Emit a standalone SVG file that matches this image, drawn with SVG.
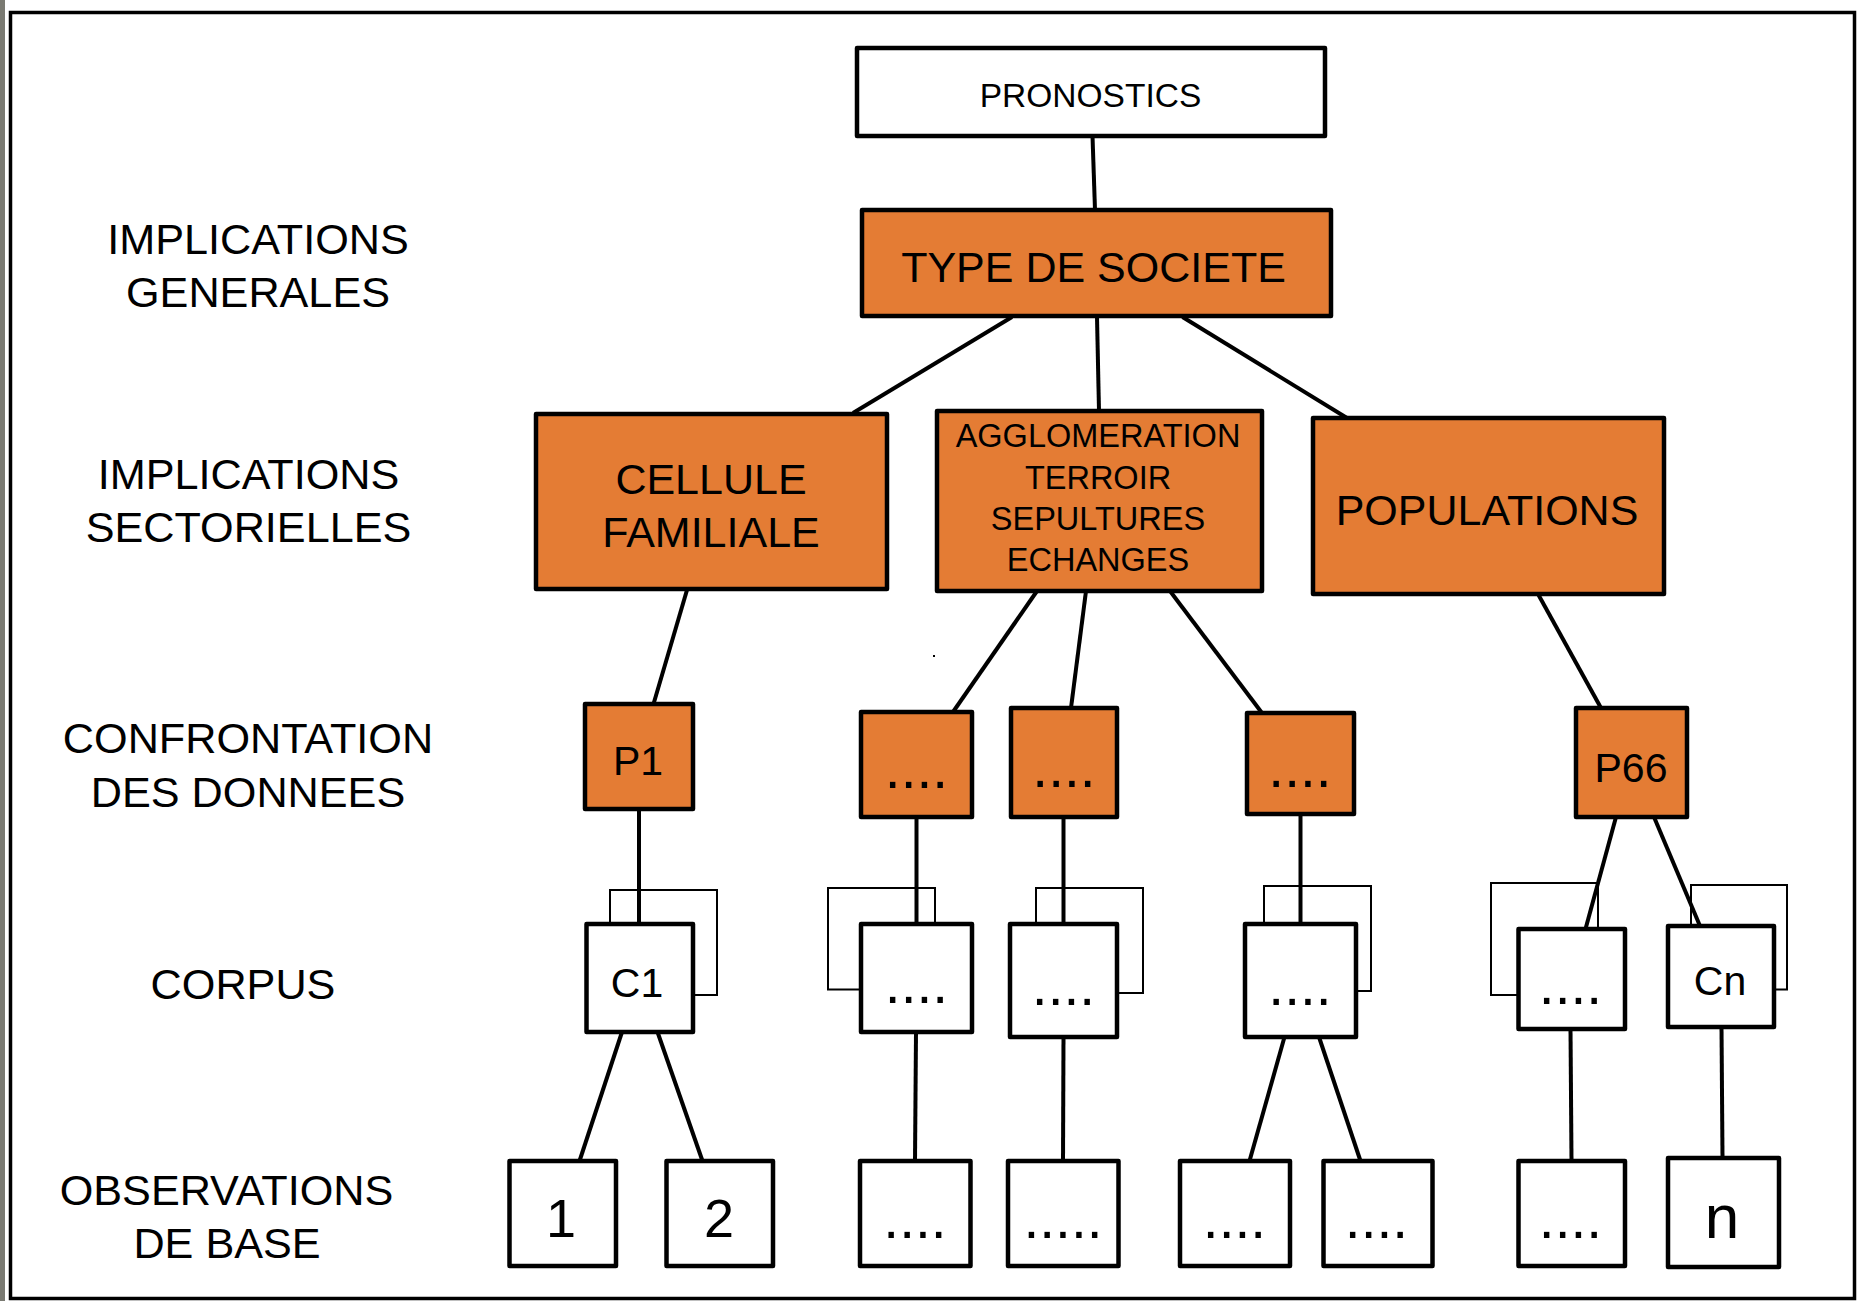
<svg xmlns="http://www.w3.org/2000/svg" width="1858" height="1301" viewBox="0 0 1858 1301">
<style>
.box{fill:#ffffff;stroke:#000;stroke-width:4.5;stroke-linejoin:round}
.obox{fill:#E47C34;stroke:#000;stroke-width:4.5;stroke-linejoin:round}
.shadow{fill:none;stroke:#000;stroke-width:2}
.con line{stroke:#000;stroke-width:4;stroke-linecap:butt}
text{font-family:"Liberation Sans",Arial,Helvetica,sans-serif;fill:#000;text-anchor:middle}
.lbl{font-size:43.2px}
.big{font-size:43px}
.mid{font-size:32.5px}
.sm{font-size:41px}
.dots{font-size:57px}
.num{font-size:54px}
</style>
<rect x="0" y="0" width="1858" height="1301" fill="#ffffff"/>
<rect x="0" y="0" width="5" height="1301" fill="#7a7a72"/>
<rect x="10.5" y="12.5" width="1844" height="1286" fill="none" stroke="#000" stroke-width="3.5"/>
<rect x="933" y="655" width="2" height="2" fill="#000"/>

<g id="labels">
<text class="lbl" x="258" y="254">IMPLICATIONS</text>
<text class="lbl" x="258" y="307">GENERALES</text>
<text class="lbl" x="248.5" y="489">IMPLICATIONS</text>
<text class="lbl" x="248.5" y="541.5">SECTORIELLES</text>
<text class="lbl" x="248" y="753">CONFRONTATION</text>
<text class="lbl" x="248" y="806.5">DES DONNEES</text>
<text class="lbl" x="243" y="998.5">CORPUS</text>
<text class="lbl" x="226.5" y="1205">OBSERVATIONS</text>
<text class="lbl" x="227" y="1258">DE BASE</text>
</g>

<g id="connectors" class="con">
<line x1="1092.5" y1="136" x2="1095" y2="210"/>
<line x1="1012" y1="317" x2="853" y2="413"/>
<line x1="1097" y1="317" x2="1099" y2="411"/>
<line x1="1182.5" y1="317" x2="1347" y2="418"/>
<line x1="687" y1="590" x2="653.5" y2="704"/>
<line x1="1037" y1="591" x2="953" y2="712"/>
<line x1="1086" y1="591" x2="1071" y2="708"/>
<line x1="1170" y1="591" x2="1262" y2="713"/>
<line x1="1538" y1="594" x2="1601" y2="708"/>
<line x1="639" y1="808" x2="639" y2="924"/>
<line x1="916.5" y1="817" x2="916.5" y2="924"/>
<line x1="1063.5" y1="817" x2="1063.5" y2="924"/>
<line x1="1300.5" y1="814" x2="1300.5" y2="924"/>
<line x1="1616" y1="817" x2="1585.5" y2="929"/>
<line x1="1654" y1="817" x2="1700" y2="926"/>
<line x1="622" y1="1032" x2="579.5" y2="1161"/>
<line x1="657.5" y1="1032" x2="702.5" y2="1161"/>
<line x1="916" y1="1032" x2="915" y2="1161"/>
<line x1="1063.5" y1="1037" x2="1063" y2="1161"/>
<line x1="1284.5" y1="1037" x2="1249.5" y2="1161"/>
<line x1="1319" y1="1037" x2="1360.5" y2="1161"/>
<line x1="1570.5" y1="1029" x2="1571.5" y2="1161"/>
<line x1="1721.5" y1="1027" x2="1722.5" y2="1158"/>
</g>

<g id="pronostics">
<rect class="box" x="857" y="48" width="468" height="88"/>
<text x="1090.5" y="107" style="font-size:33.5px">PRONOSTICS</text>
</g>
<g id="type-de-societe">
<rect class="obox" x="862" y="210" width="469" height="106"/>
<text x="1093.5" y="282" class="big">TYPE DE SOCIETE</text>
</g>
<g id="cellule-familiale">
<rect class="obox" x="536" y="414" width="351" height="175"/>
<text class="big" x="711" y="494">CELLULE</text>
<text class="big" x="711" y="547">FAMILIALE</text>
</g>
<g id="agglomeration">
<rect class="obox" x="937" y="411" width="325" height="180"/>
<text class="mid" x="1098" y="447">AGGLOMERATION</text>
<text class="mid" x="1098" y="489">TERROIR</text>
<text class="mid" x="1098" y="530">SEPULTURES</text>
<text class="mid" x="1098" y="571">ECHANGES</text>
</g>
<g id="populations">
<rect class="obox" x="1313" y="418" width="351" height="176"/>
<text class="big" x="1487" y="525">POPULATIONS</text>
</g>

<g id="p1">
<rect class="obox" x="585" y="704" width="108" height="105"/>
<text class="sm" x="638" y="774.5">P1</text>
</g>
<g id="p-a">
<rect class="obox" x="861" y="712" width="111" height="105"/>
<text class="dots" x="916.5" y="788">....</text>
</g>
<g id="p-b">
<rect class="obox" x="1011" y="708" width="106" height="109"/>
<text class="dots" x="1064" y="787">....</text>
</g>
<g id="p-c">
<rect class="obox" x="1247" y="713" width="107" height="101"/>
<text class="dots" x="1300" y="787">....</text>
</g>
<g id="p66">
<rect class="obox" x="1576" y="708" width="111" height="109"/>
<text class="sm" x="1631" y="782">P66</text>
</g>

<g id="c1">
<rect class="shadow" x="610" y="890" width="107" height="105"/>
<rect class="box" x="586.5" y="924" width="106.5" height="108"/>
<text class="sm" x="637" y="996.5">C1</text>
</g>
<g id="c-a">
<rect class="shadow" x="828" y="888" width="107" height="101.5"/>
<rect class="box" x="861" y="924" width="111" height="108"/>
<text class="dots" x="916.5" y="1003">....</text>
</g>
<g id="c-b">
<rect class="shadow" x="1036" y="888" width="107" height="105"/>
<rect class="box" x="1010" y="924" width="107" height="113"/>
<text class="dots" x="1063.5" y="1005">....</text>
</g>
<g id="c-c">
<rect class="shadow" x="1264" y="886" width="107" height="105"/>
<rect class="box" x="1245" y="924" width="111" height="113"/>
<text class="dots" x="1300" y="1005">....</text>
</g>
<g id="c-d">
<rect class="shadow" x="1491" y="883" width="107" height="112"/>
<rect class="box" x="1518.5" y="929" width="106.5" height="100"/>
<text class="dots" x="1570.5" y="1003.5">....</text>
</g>
<g id="cn">
<rect class="shadow" x="1691" y="885" width="96" height="104.5"/>
<rect class="box" x="1668" y="926" width="106" height="101"/>
<text class="sm" x="1720" y="994.5">Cn</text>
</g>

<g id="obs-1">
<rect class="box" x="509.5" y="1161" width="106.5" height="105"/>
<text class="num" x="561" y="1237">1</text>
</g>
<g id="obs-2">
<rect class="box" x="666.5" y="1161" width="106.5" height="105"/>
<text class="num" x="719" y="1237">2</text>
</g>
<g id="obs-a">
<rect class="box" x="860" y="1161" width="110.5" height="105"/>
<text class="dots" x="915" y="1238">....</text>
</g>
<g id="obs-b">
<rect class="box" x="1008" y="1161" width="110.5" height="105"/>
<text class="dots" x="1063" y="1238">.....</text>
</g>
<g id="obs-c">
<rect class="box" x="1180" y="1161" width="110" height="105"/>
<text class="dots" x="1234.5" y="1238">....</text>
</g>
<g id="obs-d">
<rect class="box" x="1323.5" y="1161" width="109" height="105"/>
<text class="dots" x="1376.5" y="1238">....</text>
</g>
<g id="obs-e">
<rect class="box" x="1518.5" y="1161" width="106.5" height="105"/>
<text class="dots" x="1570.5" y="1238">....</text>
</g>
<g id="obs-n">
<rect class="box" x="1668" y="1158" width="111" height="109"/>
<text x="1722" y="1237.5" style="font-size:62px">n</text>
</g>
</svg>
